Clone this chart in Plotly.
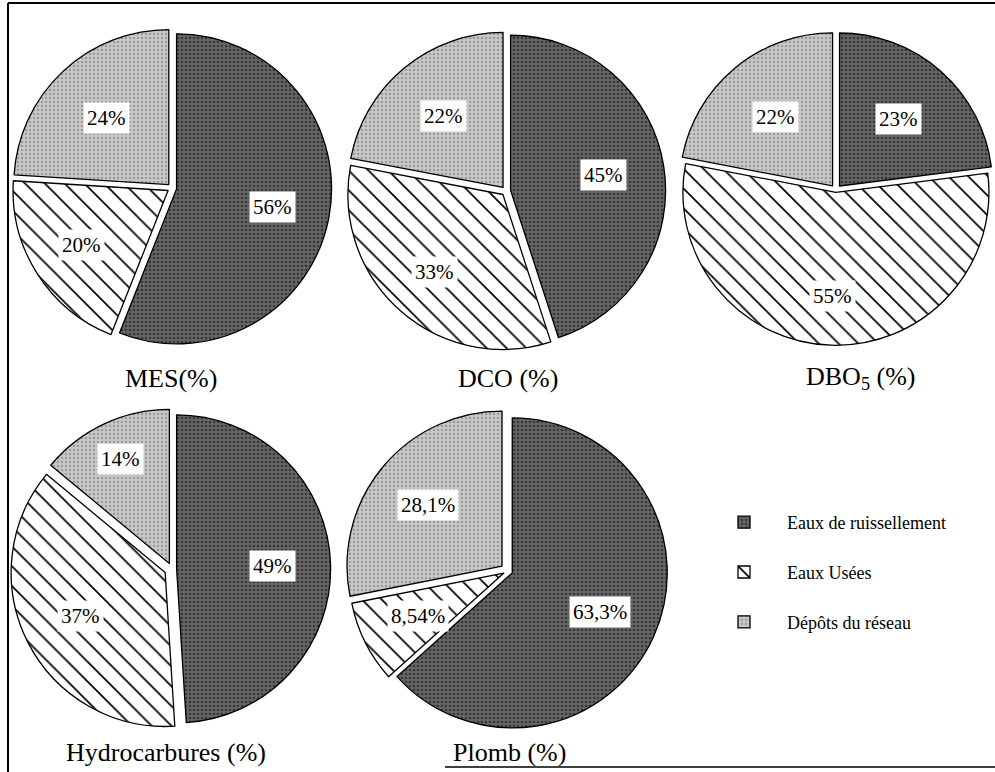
import math
import plotly.graph_objects as go

W, H = 995, 772

categories = ["Eaux de ruissellement", "Eaux Usées", "Dépôts du réseau"]
chart_titles = ["MES(%)", "DCO (%)", "DBO<sub>5</sub> (%)", "Hydrocarbures (%)", "Plomb (%)"]

mes_values = [56, 20, 24]
dco_values = [45, 33, 22]
dbo5_values = [23, 55, 22]
hydro_values = [49, 37, 14]
plomb_values = [63.3, 8.54, 28.1]

mes_text = ["56%", "20%", "24%"]
dco_text = ["45%", "33%", "22%"]
dbo5_text = ["23%", "55%", "22%"]
hydro_text = ["49%", "37%", "14%"]
plomb_text = ["63,3%", "8,54%", "28,1%"]

series = [mes_values, dco_values, dbo5_values, hydro_values, plomb_values]
texts = [mes_text, dco_text, dbo5_text, hydro_text, plomb_text]

# legend labels padded with a blank line to reproduce the airy legend spacing
legend_labels = [c + "<br>&nbsp;" for c in categories]

# layout (pixel centres, radius) for each pie
centers = [(172, 188), (506, 191), (836, 190), (172, 569), (508, 571)]
radii = [155, 155, 153, 154, 155]
pulls = [[0.03, 0.03, 0.03], [0.03, 0.03, 0.03], [0.035, 0.015, 0.035],
         [0.03, 0.05, 0.04], [0.03, 0.03, 0.05]]
title_pos = [(171, 378), (508, 378), (860, 378), (166, 752), (509, 752)]
label_frac = [[0.66, 0.69, 0.62], [0.64, 0.70, 0.63], [0.62, 0.69, 0.62],
              [0.65, 0.67, 0.79], [0.65, 0.65, 0.67]]

fills = ["#666666", "#ffffff", "#c9c9c9"]
pat_shapes = [".", "\\", "."]
pat_fg = ["#383838", "#000000", "#9a9a9a"]
pat_size = [4, 14, 4]
pat_sol = [0.35, 0.12, 0.3]

fig = go.Figure()
annotations = []
for i, (vals, txt) in enumerate(zip(series, texts)):
    cx, cy = centers[i]
    r = radii[i]
    mp = max(pulls[i])
    half = r * (1 + mp)
    dom_x = [(cx - half) / W, (cx + half) / W]
    dom_y = [1 - (cy + half) / H, 1 - (cy - half) / H]
    fig.add_trace(go.Pie(
        labels=legend_labels, values=vals, sort=False, direction="clockwise",
        rotation=0, pull=pulls[i], textinfo="none",
        hovertext=categories, hoverinfo="text+percent",
        marker=dict(colors=fills, line=dict(color="#000000", width=1.3),
                    pattern=dict(shape=pat_shapes, fgcolor=pat_fg, bgcolor=fills,
                                 size=pat_size, solidity=pat_sol)),
        domain=dict(x=dom_x, y=dom_y), showlegend=(i == 0),
    ))
    total = sum(vals)
    start = 90.0
    for j, v in enumerate(vals):
        span = 360.0 * v / total
        mid = math.radians(start - span / 2)
        rr = r * label_frac[i][j]
        px = cx + rr * math.cos(mid)
        py = cy - rr * math.sin(mid)
        annotations.append(dict(
            x=px / W, y=1 - py / H, xref="paper", yref="paper", text=txt[j],
            xanchor="center", yanchor="middle",
            showarrow=False, bgcolor="#ffffff", borderpad=3,
            font=dict(family="Liberation Serif", size=21, color="#000000")))
        start -= span
    tx, ty = title_pos[i]
    annotations.append(dict(
        x=tx / W, y=1 - ty / H, xref="paper", yref="paper", text=chart_titles[i],
        xanchor="center", yanchor="middle",
        showarrow=False, font=dict(family="Liberation Serif", size=26, color="#000000")))

shapes = [
    dict(type="line", xref="paper", yref="paper", x0=8 / W, x1=1, y0=1 - 3 / H, y1=1 - 3 / H,
         line=dict(color="#000", width=2)),
    dict(type="line", xref="paper", yref="paper", x0=8 / W, x1=8 / W, y0=0, y1=1 - 3 / H,
         line=dict(color="#000", width=2)),
    dict(type="line", xref="paper", yref="paper", x0=445 / W, x1=1, y0=1 - 767 / H, y1=1 - 767 / H,
         line=dict(color="#000", width=1.5)),
]

fig.update_layout(
    width=W, height=H, margin=dict(l=0, r=0, t=0, b=0),
    paper_bgcolor="#ffffff", plot_bgcolor="#ffffff",
    annotations=annotations, shapes=shapes,
    legend=dict(x=701 / W, y=1 - 504 / H, xanchor="left", yanchor="top",
                font=dict(family="Liberation Serif", size=18, color="#000"),
                bgcolor="rgba(0,0,0,0)", itemwidth=76, valign="top"),
)

fig.write_html("out.html", config={"displayModeBar": False},
               post_script="document.body.style.margin='0px';document.body.style.overflow='hidden';")
